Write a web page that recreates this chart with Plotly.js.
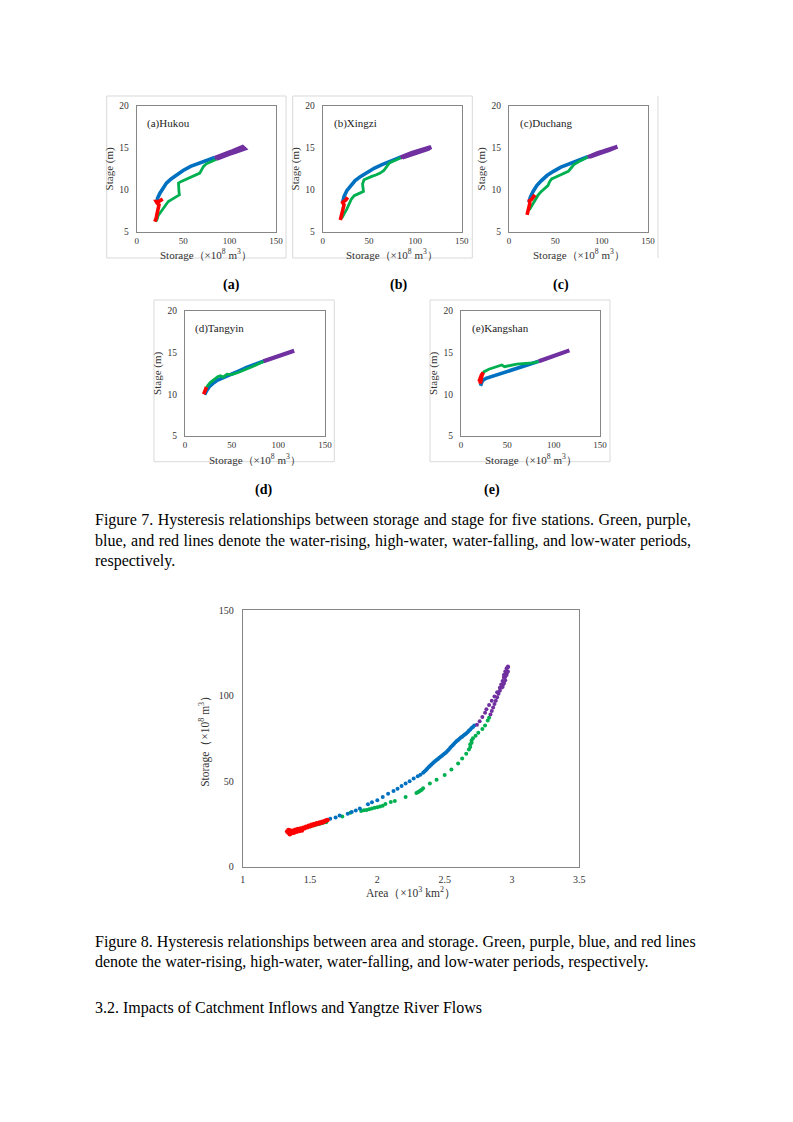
<!DOCTYPE html>
<html>
<head>
<meta charset="utf-8">
<script src="https://cdn.plot.ly/plotly-3.0.1.min.js"></script>
<style>
html,body{margin:0;padding:0;background:#fff;}
#wrap{position:relative;width:793px;height:1122px;}
#page{position:absolute;left:0;top:0;width:793px;height:1122px;}
.ln{position:absolute;left:95px;font-family:"Liberation Serif",serif;font-size:16px;line-height:20px;height:20px;color:#000;white-space:nowrap;overflow:visible;}
.ln.j{text-align:justify;text-align-last:justify;white-space:normal;}
</style>
</head>
<body>
<div id="wrap"><div id="page"></div></div>
<script>
// ---------- Figure 7 data: [storage (1e8 m3), stage (m)] ----------
const hukouRising  = [[20.5,6.2],[22,6.5],[23,6.9],[25,7.2],[28,7.8],[31,8.2],[34,8.6],[37,8.8],[40,9.0],[43,9.1],[46,9.4],[45.5,9.8],[45,10.4],[45,10.8],[48,11.0],[52,11.2],[56,11.4],[61,11.6],[65,11.8],[68,12.0],[70,12.4],[72,12.8],[75,13.1],[80,13.35],[86,13.65]];
const hukouHigh    = [[84,13.8],[88,14.0],[93,14.2],[98,14.4],[103,14.6],[108,14.8],[112,14.95],[114,15.1],[116,14.9],[112,14.7],[106,14.5],[100,14.3],[94,14.05],[89,13.85],[86,13.7]];
const hukouFalling = [[84,13.85],[75,13.5],[66,13.15],[58,12.8],[50,12.3],[43,11.8],[37,11.3],[32,10.8],[28,10.2],[25,9.6],[22.5,9.0],[21.5,8.5]];
const hukouLow     = [[19.5,6.2],[21,6.6],[22,7.2],[23,7.8],[24,8.2],[22,8.4],[21,8.6],[24,8.6],[27,8.8],[28,8.9]];

const xingziRising  = [[20.5,6.6],[22.3,6.9],[24,7.3],[26,7.7],[28.5,8.3],[31,8.9],[34,9.3],[37,9.5],[40,9.6],[44,9.8],[43.5,10.3],[43,10.7],[44.6,11.2],[48,11.4],[53,11.6],[58,11.8],[62,12.0],[66,12.3],[69,12.7],[72,13.2],[76,13.4],[80,13.6],[87,13.95]];
const xingziHigh    = [[84,13.85],[90,14.15],[96,14.4],[102,14.6],[108,14.8],[113,15.0],[117,15.1],[114,14.9],[108,14.7],[100,14.4],[92,14.1],[86,13.85]];
const xingziFalling = [[84,13.9],[72,13.4],[64,13.0],[56,12.6],[48,12.1],[41,11.6],[35,11.1],[30,10.5],[26,9.9],[23,9.2],[21.5,8.5]];
const xingziLow     = [[19,6.4],[20,6.8],[21.5,7.2],[22.5,7.8],[23,8.2],[21.5,8.5],[23,8.6],[25,8.8],[27,9.1]];

const duchangRising  = [[22,7.6],[24,8.0],[26,8.4],[28,8.8],[31,9.3],[34,9.7],[38,10.1],[42,10.5],[44,11.0],[46,11.3],[50,11.5],[56,11.8],[60,12.0],[64,12.2],[67,12.6],[70,13.0],[75,13.35],[80,13.6],[85,13.95]];
const duchangHigh    = [[85,13.9],[90,14.15],[96,14.4],[102,14.6],[108,14.8],[113,15.0],[117,15.15],[114,15.0],[108,14.75],[100,14.45],[92,14.15],[87,13.95]];
const duchangFalling = [[85,13.95],[74,13.5],[64,13.1],[56,12.7],[48,12.2],[41,11.7],[35,11.1],[30,10.5],[26,9.8],[23,9.1],[21.5,8.5]];
const duchangLow     = [[19.5,7.0],[20.5,7.5],[21.5,8.0],[22.5,8.4],[22,8.7],[24,8.8],[26,9.1],[28,9.4]];

const tangyinRising  = [[22,10.5],[24,11.0],[27,11.4],[31,11.8],[35,12.1],[38,12.2],[41,12.05],[45,12.4],[50,12.35],[57,12.6],[64,12.9],[72,13.3],[80,13.7],[86,14.0]];
const tangyinHigh    = [[84,13.95],[90,14.2],[96,14.45],[102,14.7],[108,14.9],[113,15.1],[117,15.2]];
const tangyinFalling = [[84,13.95],[75,13.6],[66,13.2],[58,12.8],[50,12.4],[42,12.05],[35,11.7],[30,11.3],[26,10.9],[23,10.4],[21,9.95]];
const tangyinLow     = [[20,10.0],[21,10.3],[22,10.6],[23,10.85],[21.5,10.2],[20.5,10.1]];

const kangshanRising  = [[22,12.3],[25,12.7],[30,13.0],[35,13.2],[40,13.4],[44,13.5],[47,13.3],[52,13.4],[60,13.6],[70,13.7],[78,13.75],[84,13.95]];
const kangshanHigh    = [[84,13.95],[90,14.2],[96,14.45],[102,14.7],[108,14.95],[113,15.15],[117,15.25]];
const kangshanFalling = [[84,13.95],[80,13.8],[72,13.5],[64,13.2],[56,12.9],[48,12.6],[40,12.3],[32,12.1],[27,11.9],[23,11.6],[21,11.0]];
const kangshanLow     = [[19.5,11.5],[20.5,12.0],[22,12.3],[24,12.6],[22.5,12.2],[21,11.3],[20,11.8]];

const stationNames = ["(a)Hukou","(b)Xingzi","(c)Duchang","(d)Tangyin","(e)Kangshan"];
const subLabels = ["(a)","(b)","(c)","(d)","(e)"];
const storageTicks = [0,50,100,150];
const stageTicks = [5,10,15,20];

// ---------- Figure 8 data: [area (1e3 km2), storage (1e8 m3)] ----------
const areaRising = [[1.46,22.6],[1.50,23.5],[1.53,24.2],[1.55,24.6],[1.57,25.0],[1.59,25.4],[1.62,26.0],[1.74,29.4],[1.80,31.5],[1.88,32.6],[1.90,33.0],[1.92,33.2],[1.94,33.6],[1.96,34.0],[1.98,34.5],[2.00,34.8],[2.02,35.2],[2.04,35.6],[2.06,36.6],[2.10,37.8],[2.13,38.4],[2.21,40.8],[2.29,43.0],[2.30,43.5],[2.31,44.0],[2.32,44.5],[2.33,45.0],[2.34,45.8],[2.39,48.6],[2.44,50.8],[2.50,53.6],[2.55,56.8],[2.60,60.3],[2.63,63.2],[2.66,66.0],[2.68,68.5],[2.69,70.0],[2.69,71.5],[2.70,72.5],[2.70,73.8],[2.71,75.0],[2.73,76.5],[2.75,78.2],[2.78,80.5],[2.80,82.5],[2.82,85.5],[2.83,87.0]];
const areaHigh = [[2.74,83.0],[2.76,85.0],[2.78,87.5],[2.80,90.0],[2.81,92.0],[2.83,94.5],[2.85,97.0],[2.87,99.5],[2.89,102.0],[2.91,104.5],[2.92,106.5],[2.93,108.5],[2.94,110.5],[2.95,112.5],[2.96,114.5],[2.97,116.5],[2.84,89.0],[2.85,91.0],[2.86,93.0],[2.87,95.0],[2.88,97.0],[2.89,99.0],[2.90,101.0],[2.91,102.8],[2.92,104.5],[2.93,106.0],[2.94,108.0],[2.93,105.0],[2.94,107.0],[2.95,109.0],[2.95,111.0],[2.96,112.0],[2.96,113.0],[2.97,114.0],[2.94,112.0],[2.95,114.0],[2.96,116.0],[2.97,117.0]];
const areaFalling = [[1.65,28.0],[1.69,28.8],[1.72,29.9],[1.78,31.0],[1.81,32.0],[1.84,32.8],[1.87,34.0],[1.93,36.5],[1.96,37.6],[2.00,38.8],[2.04,40.8],[2.08,42.6],[2.12,44.3],[2.15,45.6],[2.18,47.2],[2.21,48.6],[2.24,50.0],[2.27,51.5],[2.30,52.8],[2.32,53.8],[2.34,54.9],[2.35,55.6],[2.36,56.4],[2.37,57.3],[2.38,58.1],[2.39,58.9],[2.40,59.6],[2.41,60.3],[2.42,61.0],[2.43,61.8],[2.44,62.4],[2.45,63.0],[2.46,63.6],[2.47,64.3],[2.48,64.9],[2.49,65.5],[2.50,66.1],[2.51,66.8],[2.52,67.6],[2.53,68.4],[2.54,69.3],[2.55,70.2],[2.56,71.0],[2.57,71.9],[2.58,72.7],[2.59,73.4],[2.60,74.1],[2.61,74.8],[2.62,75.5],[2.63,76.0],[2.64,76.6],[2.65,77.2],[2.66,77.9],[2.67,78.6],[2.68,79.4],[2.69,80.2],[2.70,81.0],[2.71,81.7],[2.72,82.5]];
const areaLow = [[1.33,20.5],[1.34,19.8],[1.34,21.5],[1.35,21.2],[1.35,19.0],[1.36,20.3],[1.36,19.5],[1.37,21.0],[1.38,20.6],[1.38,19.9],[1.39,21.6],[1.40,21.0],[1.40,20.4],[1.41,22.0],[1.42,21.4],[1.42,20.9],[1.43,22.3],[1.44,21.9],[1.44,21.2],[1.45,22.8],[1.46,22.4],[1.47,23.4],[1.48,23.0],[1.49,24.0],[1.50,23.6],[1.51,24.5],[1.52,24.1],[1.53,25.0],[1.54,24.6],[1.55,25.4],[1.56,25.1],[1.57,25.8],[1.58,25.5],[1.59,26.3],[1.60,26.0],[1.61,26.7],[1.62,27.0],[1.63,27.3]];
const areaTicks = [1,1.5,2,2.5,3,3.5];
const storageTicks8 = [0,50,100,150];

// body text lines: [centre y in px, text, justified?, width px]
const bodyLines = [
  [520,"Figure 7. Hysteresis relationships between storage and stage for five stations. Green, purple,",true,596],
  [541,"blue, and red lines denote the water-rising, high-water, water-falling, and low-water periods,",true,596],
  [561,"respectively.",false,596],
  [942,"Figure 8. Hysteresis relationships between area and storage. Green, purple, blue, and red lines",false,640],
  [962,"denote the water-rising, high-water, water-falling, and low-water periods, respectively.",false,640],
  [1008,"3.2. Impacts of Catchment Inflows and Yangtze River Flows",false,640]
];

const COL = {rising:"#00B050", high:"#7030A0", falling:"#0070C0", low:"#FF0000"};
const SERIF = "Liberation Serif";
const TXT = "#333333";

// ---------- layout helpers (page pixels -> paper fractions) ----------
const W = 793, H = 1122;
const px = v => v / W;
const py = v => 1 - v / H;

const panels = [
  {data:[hukouRising,hukouHigh,hukouFalling,hukouLow], x:[136.7,276], y:[106,231.7], lab:[145,124], sub:[232,285], xt:245.5},
  {data:[xingziRising,xingziHigh,xingziFalling,xingziLow], x:[322.7,461.7], y:[106,231.7], lab:[332,124], sub:[398,285], xt:245.5},
  {data:[duchangRising,duchangHigh,duchangFalling,duchangLow], x:[509,648], y:[106,231.7], lab:[518,124], sub:[561,285], xt:245.5},
  {data:[tangyinRising,tangyinHigh,tangyinFalling,tangyinLow], x:[185,325], y:[310.7,436], lab:[193,328], sub:[263,490], xt:450},
  {data:[kangshanRising,kangshanHigh,kangshanFalling,kangshanLow], x:[461,600], y:[310.7,436], lab:[470,328], sub:[492,490], xt:450}
];

const traces = [];
const layout = {
  width: W, height: H, margin:{l:0,r:0,t:0,b:0},
  paper_bgcolor:"rgba(0,0,0,0)", plot_bgcolor:"#ffffff",
  showlegend:false, annotations:[], shapes:[],
  font:{family:SERIF, color:"#000"}
};

const order = ["falling","rising","high","low"];
panels.forEach((p,i) => {
  const n = i+1;
  const xa = "x"+(n===1?"":n), ya = "y"+(n===1?"":n);
  const series = {rising:p.data[0], high:p.data[1], falling:p.data[2], low:p.data[3]};
  order.forEach(k => {
    const d = series[k];
    traces.push({
      type:"scatter", mode:"lines",
      x:d.map(q=>q[0]), y:d.map(q=>q[1]),
      xaxis:xa, yaxis:ya,
      line:{color:COL[k], width: k==="rising"?2.8:(k==="high"?4.2:3.6), shape:"linear"},
      hoverinfo:"skip"
    });
  });
  layout["xaxis"+(n===1?"":n)] = {
    domain:[px(p.x[0]),px(p.x[1])], anchor:ya, range:[0,150], tickvals:storageTicks,
    showline:true, mirror:true, linecolor:"#868686", linewidth:1, showgrid:false, zeroline:false,
    ticks:"", ticklabelstandoff:0, tickfont:{family:SERIF,size:9,color:TXT}
  };
  layout["yaxis"+(n===1?"":n)] = {
    domain:[py(p.y[1]),py(p.y[0])], anchor:xa, range:[5,20], tickvals:stageTicks,
    showline:true, mirror:true, linecolor:"#868686", linewidth:1, showgrid:false, zeroline:false,
    ticks:"", ticklabelstandoff:5, tickfont:{family:SERIF,size:9.5,color:TXT},
    title:{text:"Stage (m)", font:{family:SERIF,size:11,color:TXT}, standoff:3}
  };
  // x-axis title placed just below the tick labels
  layout.annotations.push({xref:"paper",yref:"paper",x:px((p.x[0]+p.x[1])/2),y:py(p.xt),xanchor:"center",yanchor:"top",
    text:"Storage（×10<sup>8</sup> m<sup>3</sup>）",showarrow:false,font:{family:SERIF,size:11,color:TXT}});
  layout.annotations.push({xref:"paper",yref:"paper",x:px(p.lab[0]),y:py(p.lab[1]),xanchor:"left",yanchor:"middle",
    text:stationNames[i],showarrow:false,font:{family:SERIF,size:11,color:"#222"}});
  layout.annotations.push({xref:"paper",yref:"paper",x:px(p.sub[0]),y:py(p.sub[1]),xanchor:"center",yanchor:"middle",
    text:"<b>"+subLabels[i]+"</b>",showarrow:false,font:{family:SERIF,size:14,color:"#000"}});
});

// chart-area frames of the small panels
const frames = [[106.7,96,286,258],[292.7,96,472.3,258],[154,300,334.3,461.7],[430,300,610,461.7]];
frames.forEach(f => layout.shapes.push({type:"rect",xref:"paper",yref:"paper",x0:px(f[0]),y0:py(f[3]),x1:px(f[2]),y1:py(f[1]),line:{color:"#d9d9d9",width:1}}));
layout.shapes.push({type:"line",xref:"paper",yref:"paper",x0:px(658),x1:px(658),y0:py(96),y1:py(258),line:{color:"#d9d9d9",width:1}});

// Figure 8
const f8 = {rising:areaRising, high:areaHigh, falling:areaFalling, low:areaLow};
["rising","falling","high","low"].forEach(k => {
  const d = f8[k];
  traces.push({type:"scatter",mode:"markers",x:d.map(q=>q[0]),y:d.map(q=>q[1]),xaxis:"x6",yaxis:"y6",
    marker:{color:COL[k],size:k==="low"?4.5:4,line:{width:0}},hoverinfo:"skip"});
});
layout.xaxis6 = {domain:[px(242.7),px(579.3)], anchor:"y6", range:[1,3.5], tickvals:areaTicks,
  showline:true, mirror:true, linecolor:"#868686", linewidth:1, showgrid:false, zeroline:false,
  ticks:"", ticklabelstandoff:3, tickfont:{family:SERIF,size:10,color:TXT}};
layout.yaxis6 = {domain:[py(866.7),py(610)], anchor:"x6", range:[0,150], tickvals:storageTicks8,
  showline:true, mirror:true, linecolor:"#868686", linewidth:1, showgrid:false, zeroline:false,
  ticks:"", ticklabelstandoff:6, tickfont:{family:SERIF,size:10,color:TXT},
  title:{text:"Storage（×10<sup>8</sup> m<sup>3</sup>）", font:{family:SERIF,size:11.5,color:TXT}, standoff:6}};
layout.annotations.push({xref:"paper",yref:"paper",x:px(411),y:py(892),xanchor:"center",yanchor:"middle",
  text:"Area（×10<sup>3</sup> km<sup>2</sup>）",showarrow:false,font:{family:SERIF,size:11.5,color:TXT}});

Plotly.newPlot("page", traces, layout, {staticPlot:true, displayModeBar:false});

// body text as real text (first two caption lines justified like the page)
const wrap = document.getElementById("wrap");
bodyLines.forEach(l => {
  const d = document.createElement("div");
  d.className = "ln" + (l[2] ? " j" : "");
  d.style.top = (l[0] - 10) + "px";
  d.style.width = l[3] + "px";
  d.textContent = l[1];
  wrap.appendChild(d);
});
</script>
</body>
</html>
